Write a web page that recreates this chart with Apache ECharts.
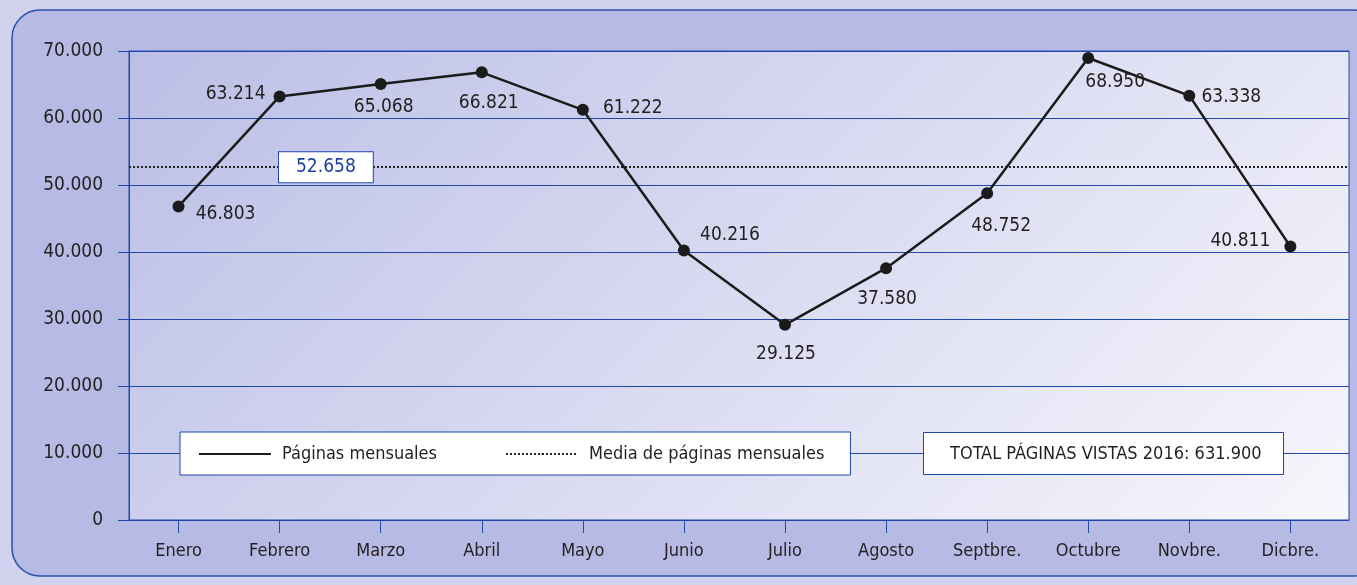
<!DOCTYPE html>
<html>
<head>
<meta charset="utf-8">
<script src="https://cdn.jsdelivr.net/npm/echarts@6/dist/echarts.min.js"></script>
<style>
  html, body { margin: 0; padding: 0; }
  #main { width: 1357px; height: 585px; }
</style>
</head>
<body>
<div id="main"></div>
<script>
// datos
var meses = ['Enero', 'Febrero', 'Marzo', 'Abril', 'Mayo', 'Junio', 'Julio', 'Agosto', 'Septbre.', 'Octubre', 'Novbre.', 'Dicbre.'];
var paginas = [46803, 63214, 65068, 66821, 61222, 40216, 29125, 37580, 48752, 68950, 63338, 40811];
// desplazamiento de cada etiqueta respecto a su punto
var etiquetaDx = [47, -44, 3, 7, 50, 46, 1, 1, 14, 27, 42, -50];
var etiquetaDy = [8, -2, 23, 31, -2, -15, 29, 31, 33, 24, 1, -6];

var fuente = "'DejaVu Sans Condensed', 'Liberation Sans Narrow', sans-serif";
var azul = '#2148a8';
var texto = '#231f20';

function miles(v) {
  return String(Math.round(v)).replace(/\B(?=(\d{3})+(?!\d))/g, '.');
}

var total = paginas.reduce(function (a, b) { return a + b; }, 0);
var media = Math.round(total / paginas.length);

var chartDom = document.getElementById('main');
var myChart = echarts.init(chartDom);
var option;

var puntos = paginas.map(function (v, i) {
  return {
    value: [i, v],
    label: { offset: [etiquetaDx[i], etiquetaDy[i]] }
  };
});

option = {
  backgroundColor: '#d1d3ee',
  animation: false,
  textStyle: { fontFamily: fuente },
  graphic: [
    {
      type: 'rect',
      z: -10,
      shape: { x: 12, y: 10, width: 1370, height: 566, r: 28 },
      style: { fill: '#b7bae4', stroke: '#2d4fa8', lineWidth: 1.5 }
    }
  ],
  title: {
    text: 'TOTAL PÁGINAS VISTAS 2016: ' + miles(total),
    left: 923,
    top: 432,
    backgroundColor: '#ffffff',
    borderColor: azul,
    borderWidth: 1,
    padding: [11, 22, 10, 27],
    textStyle: { fontFamily: fuente, fontSize: 18, fontWeight: 'normal', color: texto, lineHeight: 22 }
  },
  legend: {
    left: 180,
    top: 432,
    data: ['Páginas mensuales', 'Media de páginas mensuales'],
    backgroundColor: '#ffffff',
    borderColor: azul,
    borderWidth: 1,
    padding: [11, 26, 10, 18],
    itemWidth: 72,
    itemHeight: 2,
    itemGap: 68,
    textStyle: { fontFamily: fuente, fontSize: 18, color: texto, lineHeight: 22, padding: [0, 0, 0, 6] }
  },
  grid: {
    left: 129,
    right: 8,
    top: 51,
    bottom: 65,
    show: true,
    borderColor: azul,
    borderWidth: 1,
    backgroundColor: {
      type: 'linear', global: true,
      x: 129, y: 51, x2: 973, y2: 895,
      colorStops: [
        { offset: 0, color: '#bbbfe6' },
        { offset: 1, color: '#f7f6fc' }
      ]
    }
  },
  xAxis: {
    type: 'value',
    min: -0.49,
    max: 11.58,
    splitLine: { show: false },
    axisLine: { show: true, onZero: false, lineStyle: { color: azul, width: 1 } },
    axisTick: {
      show: true,
      length: 13,
      customValues: meses.map(function (m, i) { return i; }),
      lineStyle: { color: azul, width: 1 }
    },
    axisLabel: {
      customValues: meses.map(function (m, i) { return i; }),
      formatter: function (v) { return meses[v]; },
      margin: 22,
      fontFamily: fuente,
      fontSize: 18,
      color: texto
    }
  },
  yAxis: {
    type: 'value',
    min: 0,
    max: 70000,
    interval: 10000,
    axisLine: { show: true, onZero: false, lineStyle: { color: azul, width: 1 } },
    axisTick: { show: true, length: 11, lineStyle: { color: azul, width: 1 } },
    splitLine: { show: true, lineStyle: { color: azul, width: 1 } },
    axisLabel: {
      formatter: function (v) { return miles(v); },
      margin: 26,
      fontFamily: fuente,
      fontSize: 19,
      color: texto
    }
  },
  series: [
    {
      name: 'Media de páginas mensuales',
      type: 'line',
      data: [],
      symbol: 'none',
      itemStyle: { color: '#222222' },
      lineStyle: { color: '#222222', type: 'dotted', width: 2 },
      markLine: {
        silent: true,
        symbol: 'none',
        lineStyle: { color: '#222222', type: 'dotted', width: 2 },
        label: {
          show: true,
          position: 'insideStart',
          distance: [150, 0],
          formatter: function () { return miles(media); },
          backgroundColor: '#ffffff',
          borderColor: azul,
          borderWidth: 1,
          padding: [6, 17, 5, 17],
          fontFamily: fuente,
          fontSize: 19,
          color: '#1d3f9e'
        },
        data: [{ yAxis: media }]
      }
    },
    {
      name: 'Páginas mensuales',
      type: 'line',
      data: puntos,
      z: 5,
      symbol: 'circle',
      symbolSize: 12,
      itemStyle: { color: '#1b1b1b' },
      lineStyle: { color: '#1b1b1b', width: 2.5 },
      label: {
        show: true,
        position: 'inside',
        formatter: function (p) { return miles(p.value[1]); },
        fontFamily: fuente,
        fontSize: 19,
        color: texto
      }
    }
  ]
};

option && myChart.setOption(option);
</script>
</body>
</html>
